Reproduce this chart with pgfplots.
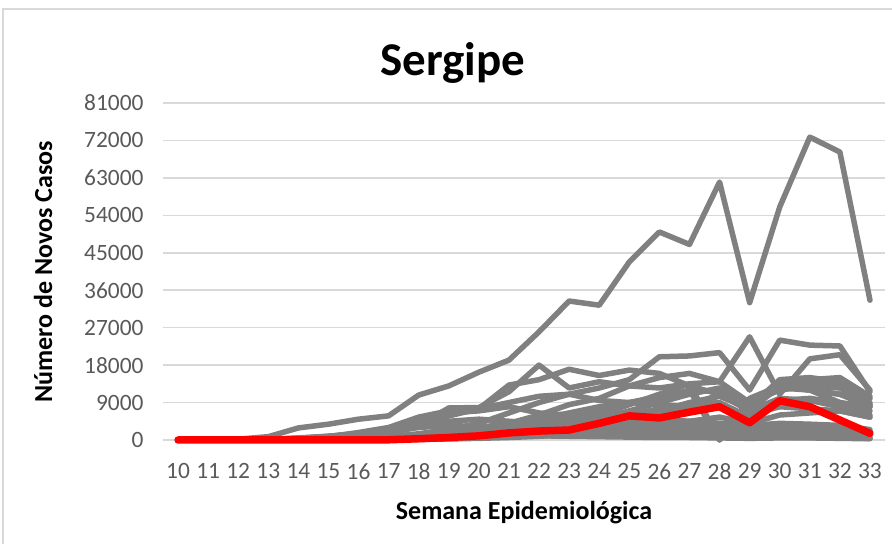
\documentclass[border=0pt]{standalone}
\usepackage{pgfplots}
\usepackage{pgfplotstable}
\pgfplotsset{compat=1.18}
\usepackage{fontspec}
\setmainfont{Carlito}

\definecolor{gridgray}{HTML}{D9D9D9}
\definecolor{ticktxt}{HTML}{595959}
\definecolor{linegray}{HTML}{808080}

% one row per state, one column per epidemiological week
\pgfplotstableread{
name 10 11 12 13 14 15 16 17 18 19 20 21 22 23 24 25 26 27 28 29 30 31 32 33
s1 0 50 200 800 2900 3800 5000 5800 10800 13000 16300 19200 26000 33400 32400 42800 50000 47000 62000 33000 56000 72800 69200 33600
s2 0 0 50 150 400 700 1200 1800 3500 7700 7800 11600 18000 12500 14000 13000 12500 13500 14000 9000 13000 12000 11000 8000
s3 0 0 30 100 300 600 1000 1600 3200 5800 7500 13200 14500 17000 15500 16800 16000 13000 11000 7000 10000 9500 8000 6000
s4 0 0 10 50 150 300 500 800 1500 2500 4000 6500 9000 11000 12500 14500 20000 20200 21000 12000 24000 22800 22600 11600
s5 0 0 10 40 100 200 300 500 900 1500 2500 4000 6000 8500 10000 13000 15000 16000 14000 24800 11000 19500 20500 12000
s6 0 0 20 80 300 800 1800 3000 5500 7000 7500 9000 10500 11000 9500 9000 8500 8000 8000 6000 8000 7500 7000 5500
s7 0 0 20 100 400 900 1500 2500 4500 6500 7000 8000 6500 6000 5500 4500 4000 3800 3500 2500 3500 3200 3000 2000
s8 0 0 20 150 500 900 1500 2000 3000 3500 3200 3000 2800 2500 2200 2000 1800 2000 2500 1800 2200 2500 2800 1500
s9 0 0 5 20 50 100 150 200 400 600 900 1500 2500 3500 5000 7000 9000 11000 12500 8000 14500 15000 14000 9000
s10 0 0 5 20 50 100 150 200 300 400 600 900 1500 2500 3500 5000 6500 8000 11000 7000 13000 14500 15000 10500
s11 0 0 5 30 80 100 150 250 400 600 900 1500 2500 4000 6000 8500 11000 13500 0 9000 12000 13000 12500 8500
s12 0 0 5 20 60 100 150 200 300 500 700 1000 1500 2500 3500 5000 7000 9000 10500 7500 13500 14000 13000 10000
s13 0 0 10 50 300 800 1500 2500 3500 4500 5000 4500 4000 3500 3000 2500 2200 2000 1800 1500 2000 1800 1500 1200
s14 0 0 10 50 150 300 500 800 1200 1800 2500 3500 4500 4800 5000 6000 7500 8500 9000 5500 9500 10000 9000 7000
s15 0 0 20 80 150 200 300 500 800 1200 2000 3000 5000 6500 8000 9000 10000 12000 0 10000 13000 12000 9000 8000
s16 0 0 5 20 50 150 300 600 1200 2000 3000 4000 5000 5500 6000 5500 5000 4500 4000 3000 3500 3000 2800 2000
s17 0 0 5 20 50 100 200 400 800 1500 2000 2500 3500 4500 5000 4500 4000 3500 3000 2500 3000 2800 2500 1500
s18 0 0 5 10 40 80 200 400 800 1500 2200 3000 3200 3000 2800 2500 2200 2000 1800 1500 1700 1500 1300 900
s19 0 0 5 10 30 60 100 200 400 800 1200 2000 2800 3500 4000 4200 4500 4300 4000 3500 4000 3800 3500 2500
s20 0 0 5 10 20 40 80 150 300 500 800 1200 2000 5000 7000 9000 10500 11500 12000 8000 12500 12000 11000 8500
s21 0 0 5 10 20 30 50 80 150 250 400 600 900 1300 1800 2500 3500 4500 5500 4000 6000 6500 7000 5500
s22 0 0 5 10 30 50 100 200 400 700 1000 1500 2000 2500 3000 3200 3500 3300 3000 2500 3000 2800 2500 1800
s23 0 0 2 5 10 30 60 100 200 400 600 900 1200 1500 1800 2000 2200 2500 2700 2000 2800 2600 2400 1700
s24 0 0 5 20 100 300 500 800 1200 1500 1300 1200 1000 900 800 700 600 600 500 400 500 500 400 300
s25 0 0 2 5 20 50 100 200 400 600 800 1000 1200 1300 1200 1100 1000 900 800 700 800 700 600 400
s26 0 0 2 5 20 50 100 200 300 500 700 900 1100 1200 1300 1100 1000 900 800 600 700 600 500 400
se 0 0 0 0 0 0 0 50 300 600 1000 1700 2150 2400 4000 5800 5300 6700 8000 4150 9450 8000 4800 1600
}\raw
\pgfplotstabletranspose[colnames from=name,input colnames to=w]\data\raw

\begin{document}
\begin{tikzpicture}[x=1bp,y=1bp]
\useasboundingbox (0,0) rectangle (892,544);
% chart area frame (only top and left edges are visible)
\draw[gridgray, line width=1.5bp] (3,0) -- (3,535) -- (892,535);

\begin{axis}[
    at={(163bp,104bp)}, anchor=south west,
    scale only axis, width=722bp, height=337bp,
    xmin=9.5, xmax=33.5, ymin=0, ymax=81000,
    xtick={10,...,33},
    ytick={0,9000,...,81000},
    scaled y ticks=false,
    /pgf/number format/1000 sep={},
    /pgf/number format/assume math mode=true,
    ymajorgrids, grid style={gridgray, line width=1.5bp},
    axis line style={draw=none},
    major tick length=0pt,
    tick label style={font=\fontsize{23.4bp}{28bp}\selectfont, text=ticktxt},
    yticklabel style={xshift=-16bp},
    xticklabel style={yshift=-20bp},
    clip=false,
  ]
  \pgfplotsinvokeforeach{1,...,26}{
    \addplot[linegray, line width=5.5bp, line join=round, line cap=round, mark=none]
      table[x=w, y=s#1]{\data};
  }
  \addplot[red, line width=7.5bp, line join=round, line cap=round, mark=none]
    table[x=w, y=se]{\data};
\end{axis}

\node[font=\fontsize{47bp}{52bp}\selectfont\bfseries] at (453,481) {Sergipe};
\node[font=\fontsize{26bp}{30bp}\selectfont\bfseries] at (524,31) {Semana Epidemiológica};
\node[font=\fontsize{26bp}{30bp}\selectfont\bfseries, rotate=90] at (43,272) {Número de Novos Casos};
\end{tikzpicture}
\end{document}
